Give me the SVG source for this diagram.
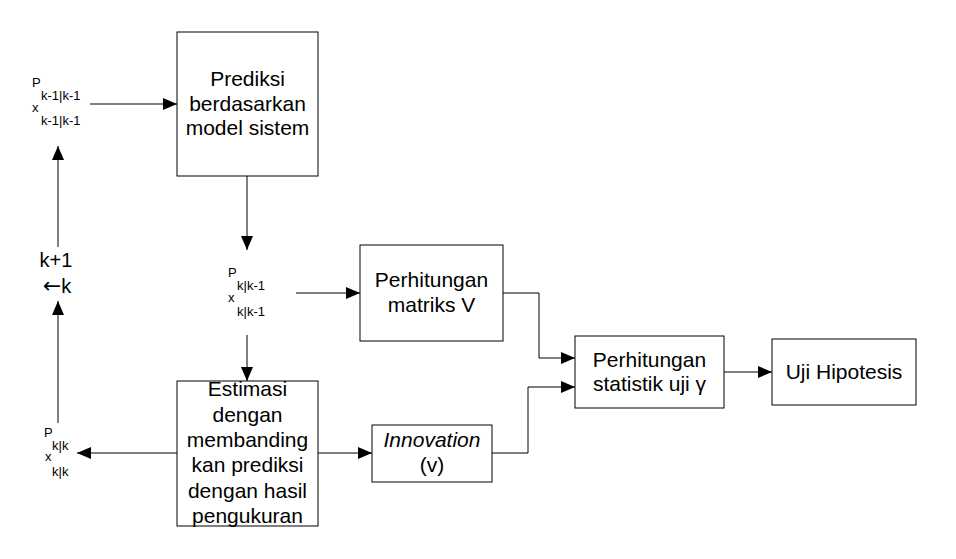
<svg xmlns="http://www.w3.org/2000/svg" width="956" height="559" viewBox="0 0 956 559">
<style>
.box{fill:#fff;stroke:#000;stroke-width:1}
.t{font-family:"Liberation Sans",Arial,sans-serif;font-size:21px;fill:#000;text-anchor:middle}
.s{font-family:"Liberation Sans",Arial,sans-serif;font-size:13px;fill:#000}
.c{fill:none;stroke:#000;stroke-width:1;marker-end:url(#ah)}
</style>
<defs>
<marker id="ah" markerUnits="userSpaceOnUse" markerWidth="14" markerHeight="14" viewBox="0 0 14 14" refX="14" refY="7" orient="auto">
<path d="M0,1 L14,7 L0,13 Z" fill="#000"/>
</marker>
</defs>
<rect width="956" height="559" fill="#fff"/>
<g id="connectors">
<path class="c" d="M90,104 H177"/>
<path class="c" d="M247,176 V250"/>
<path class="c" d="M296,293 H360"/>
<path class="c" d="M247,335 V381"/>
<path class="c" d="M177,453 H77"/>
<path class="c" d="M318,453 H372"/>
<path class="c" d="M503,293 H539 V358 H575"/>
<path class="c" d="M492,453 H528 V387 H575"/>
<path class="c" d="M724,372 H772"/>
<path class="c" d="M58,423 V301"/>
<path class="c" d="M58,247 V146"/>
</g>
<g id="prediksi">
<rect class="box" x="177" y="32" width="141" height="144"/>
<text class="t" x="247.5" y="86">Prediksi</text>
<text class="t" x="247.5" y="111">berdasarkan</text>
<text class="t" x="247.5" y="135">model sistem</text>
</g>
<g id="label-top">
<text class="s" x="32" y="87">P</text>
<text class="s" x="41" y="100">k-1|k-1</text>
<text class="s" x="32" y="112">x</text>
<text class="s" x="41" y="125">k-1|k-1</text>
</g>
<g id="label-mid">
<text class="s" x="228" y="277">P</text>
<text class="s" x="237" y="290">k|k-1</text>
<text class="s" x="228" y="302">x</text>
<text class="s" x="237" y="316">k|k-1</text>
</g>
<g id="label-bottom">
<text class="s" x="44" y="437">P</text>
<text class="s" x="52" y="450">k|k</text>
<text class="s" x="45" y="461">x</text>
<text class="s" x="52" y="476">k|k</text>
</g>
<g id="label-k">
<text class="t" style="font-size:20px" x="56" y="267">k+1</text>
<text class="t" style="font-size:20px" x="57" y="293"><tspan style="font-family:'DejaVu Sans',sans-serif;font-size:22px">←</tspan>k</text>
</g>
<g id="matriks">
<rect class="box" x="360" y="245" width="143" height="96"/>
<text class="t" x="431.5" y="287">Perhitungan</text>
<text class="t" x="431.5" y="312">matriks V</text>
</g>
<g id="estimasi">
<rect class="box" x="177" y="381" width="141" height="145"/>
<text class="t" x="247.5" y="396">Estimasi</text>
<text class="t" x="247.5" y="421.5">dengan</text>
<text class="t" x="247.5" y="447">membanding</text>
<text class="t" x="247.5" y="472">kan prediksi</text>
<text class="t" x="247.5" y="497.5">dengan hasil</text>
<text class="t" x="247.5" y="523">pengukuran</text>
</g>
<g id="innovation">
<rect class="box" x="372" y="425" width="120" height="57"/>
<text class="t" font-style="italic" x="432" y="447">Innovation</text>
<text class="t" x="432" y="472">(v)</text>
</g>
<g id="statistik">
<rect class="box" x="575" y="336" width="149" height="72"/>
<text class="t" x="649.5" y="367">Perhitungan</text>
<text class="t" x="649.5" y="391">statistik uji γ</text>
</g>
<g id="uji">
<rect class="box" x="772" y="339" width="144" height="66"/>
<text class="t" x="844" y="379">Uji Hipotesis</text>
</g>
</svg>
